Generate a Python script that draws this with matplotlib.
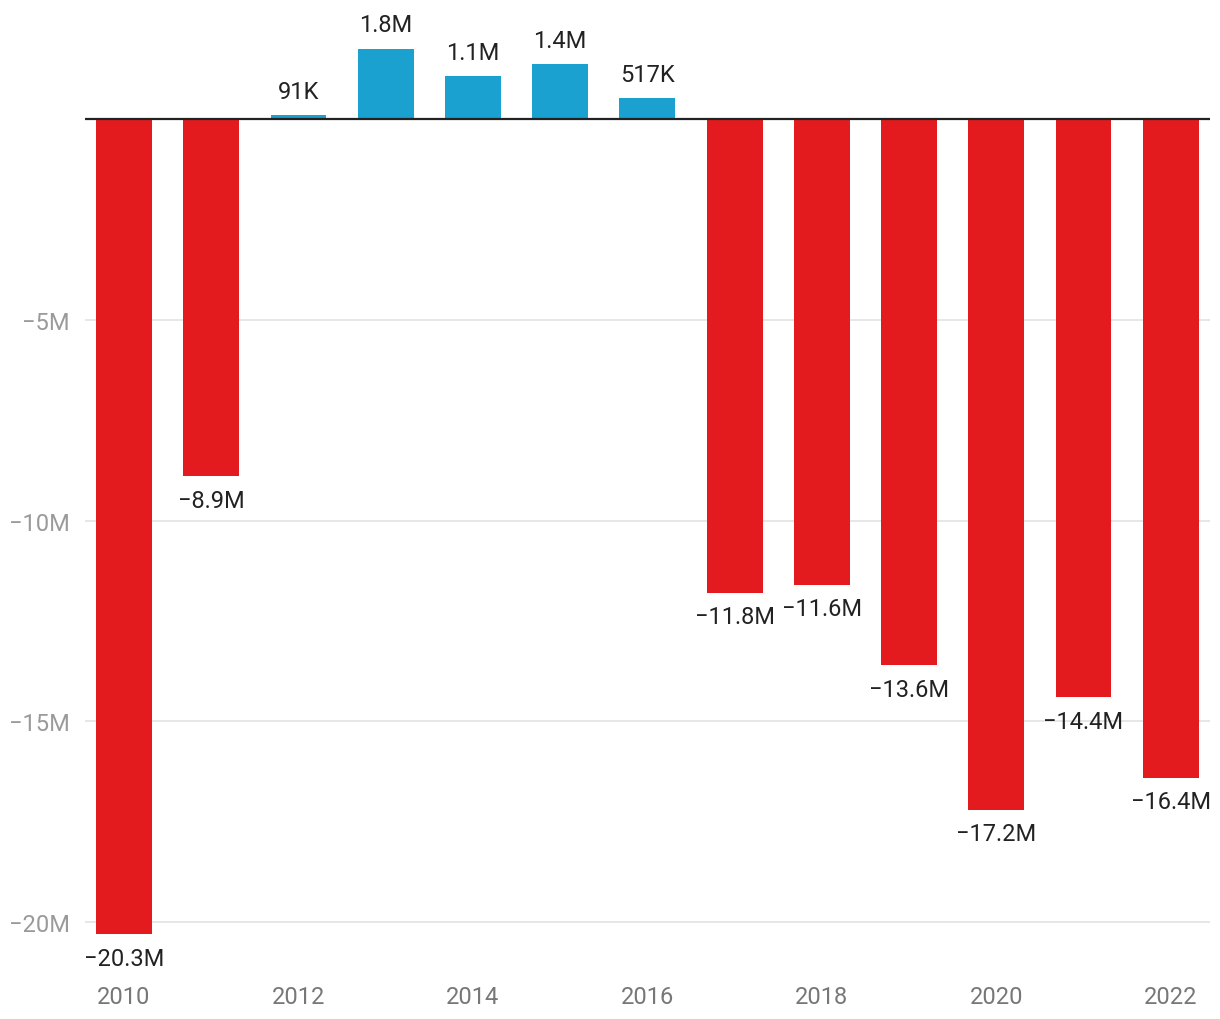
import matplotlib
matplotlib.use("Agg")
import matplotlib.pyplot as plt

plt.rcParams['font.family'] = ['Roboto', 'DejaVu Sans']

years = list(range(2010, 2023))
values = [-20.3, -8.9, 0.091, 1.75, 1.07, 1.37, 0.517, -11.8, -11.6, -13.6, -17.2, -14.4, -16.4]
labels = ["−20.3M", "−8.9M", "91K", "1.8M", "1.1M", "1.4M", "517K",
          "−11.8M", "−11.6M", "−13.6M", "−17.2M", "−14.4M", "−16.4M"]
yticks = [-20, -15, -10, -5]
ytick_labels = ["−20M", "−15M", "−10M", "−5M"]
xtick_years = [2010, 2012, 2014, 2016, 2018, 2020, 2022]

RED = "#e31b1e"
BLUE = "#1aa1cf"

W, H = 1220, 1020
fig = plt.figure(figsize=(W / 100, H / 100), dpi=100)
ax = fig.add_axes([85 / W, 1 - 962 / H, 1125 / W, 950 / H])

colors = [BLUE if v > 0 else RED for v in values]
ax.bar(years, values, width=0.64, color=colors, zorder=2)

for x, v, lab in zip(years, values, labels):
    if v > 0:
        ax.annotate(lab, (x, v), xytext=(0, 9), textcoords="offset points",
                    ha="center", va="bottom", fontsize=17, color="#222222")
    else:
        ax.annotate(lab, (x, v), xytext=(0, -9), textcoords="offset points",
                    ha="center", va="top", fontsize=17, color="#222222")

ax.axhline(0, color="#222222", lw=1.6, zorder=3)
ax.set_xlim(2010 - 0.447, 2010 + 12.45)
ax.set_ylim(-20.97, 2.69)

ax.set_yticks(yticks)
ax.set_yticklabels(ytick_labels)
ax.set_xticks(xtick_years)
ax.set_xticklabels([str(y) for y in xtick_years])
ax.grid(axis="y", color="#e3e3e3", lw=1.2, zorder=0)
ax.tick_params(axis="y", length=0, pad=11, labelsize=17, labelcolor="#9a9a9a")
ax.tick_params(axis="x", length=0, pad=17, labelsize=17, labelcolor="#777777")
for s in ax.spines.values():
    s.set_visible(False)

fig.savefig("out.png", dpi=100, facecolor="white")
